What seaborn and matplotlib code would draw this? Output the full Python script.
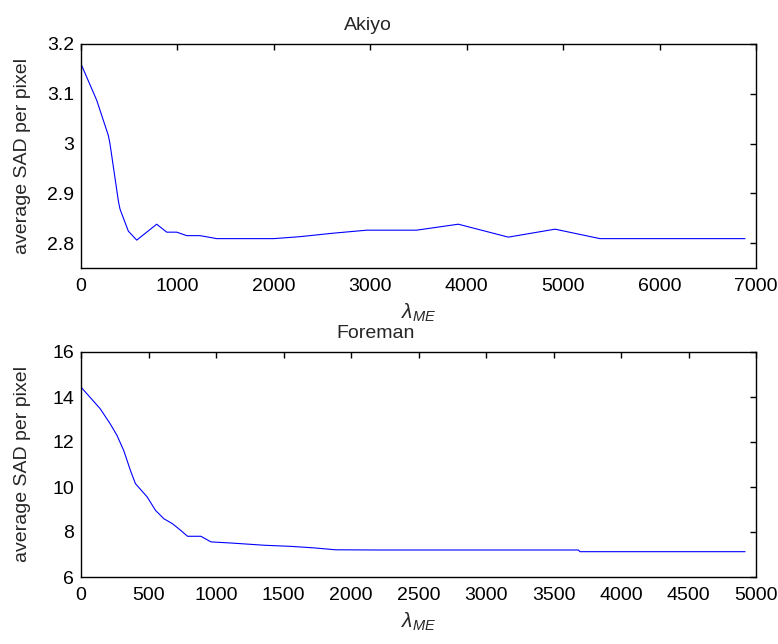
import matplotlib
matplotlib.use("Agg")
import matplotlib.pyplot as plt
import seaborn as sns
import pandas as pd

akiyo_lambda = [0, 163, 284, 301, 388, 405, 491, 578, 785, 889, 993, 1097, 1235, 1408,
                2000, 2273, 2619, 2965, 3100, 3481, 3913, 4431, 4916, 5382, 6886]
akiyo_sad = [3.16, 3.087, 3.016, 2.999, 2.884, 2.868, 2.824, 2.806, 2.838, 2.822, 2.822,
             2.815, 2.815, 2.809, 2.809, 2.813, 2.820, 2.826, 2.826, 2.826, 2.838, 2.812,
             2.828, 2.809, 2.809]

foreman_lambda = [0, 142, 216, 266, 316, 366, 403, 490, 552, 614, 677, 739, 789, 888, 963,
                  1112, 1361, 1560, 1734, 1883, 2215, 3684, 3696, 4919]
foreman_sad = [14.44, 13.48, 12.81, 12.30, 11.63, 10.74, 10.15, 9.56, 8.96, 8.59, 8.37,
               8.07, 7.81, 7.81, 7.56, 7.51, 7.41, 7.36, 7.29, 7.21, 7.20, 7.20, 7.125, 7.125]

akiyo_xticks = [0, 1000, 2000, 3000, 4000, 5000, 6000, 7000]
akiyo_yticks = [2.8, 2.9, 3.0, 3.1, 3.2]
akiyo_yticklabels = ["2.8", "2.9", "3", "3.1", "3.2"]
foreman_xticks = [0, 500, 1000, 1500, 2000, 2500, 3000, 3500, 4000, 4500, 5000]
foreman_yticks = [6, 8, 10, 12, 14, 16]

sns.set_style("white")
plt.rcParams['font.family'] = ['Liberation Sans', 'DejaVu Sans']
plt.rcParams['mathtext.fontset'] = 'custom'
plt.rcParams['mathtext.it'] = 'Liberation Sans:italic'
plt.rcParams['mathtext.rm'] = 'Liberation Sans'

fig = plt.figure(figsize=(7.78, 6.44), dpi=100)
W, H = 778, 644
ax1 = fig.add_axes([81 / W, 1 - 268 / H, 675 / W, 224 / H])
ax2 = fig.add_axes([81 / W, 1 - 577 / H, 675 / W, 225 / H])

df1 = pd.DataFrame({"lambda": akiyo_lambda, "sad": akiyo_sad})
df2 = pd.DataFrame({"lambda": foreman_lambda, "sad": foreman_sad})

sns.lineplot(data=df1, x="lambda", y="sad", ax=ax1, color="#0000ff", linewidth=0.8)
sns.lineplot(data=df2, x="lambda", y="sad", ax=ax2, color="#0000ff", linewidth=0.8)

fs = 14
for ax, xt, yt, xl, yl, title, tx in [
    (ax1, akiyo_xticks, akiyo_yticks, (0, 7000), (2.75, 3.2), "Akiyo", 0.425),
    (ax2, foreman_xticks, foreman_yticks, (0, 5000), (6, 16), "Foreman", 0.437),
]:
    ax.set_xlim(*xl)
    ax.set_ylim(*yl)
    ax.set_xticks(xt)
    ax.set_yticks(yt)
    ax.tick_params(direction="in", length=4.5, width=1, top=True, right=True,
                   labelsize=fs, colors="black")
    ax.tick_params(axis="x", pad=7)
    ax.tick_params(axis="y", pad=5)
    for s in ax.spines.values():
        s.set_color("black")
        s.set_linewidth(1)
    ax.set_xlabel(r"$\lambda_{ME}$", fontsize=fs + 1, labelpad=5)
    ax.set_ylabel("average SAD per pixel", fontsize=14)
    ax.yaxis.set_label_coords(-0.074, 0.5)
    ax.set_title(title, fontsize=fs, pad=10, x=tx)

ax1.set_yticklabels(akiyo_yticklabels)

fig.savefig("out.png", dpi=100)
